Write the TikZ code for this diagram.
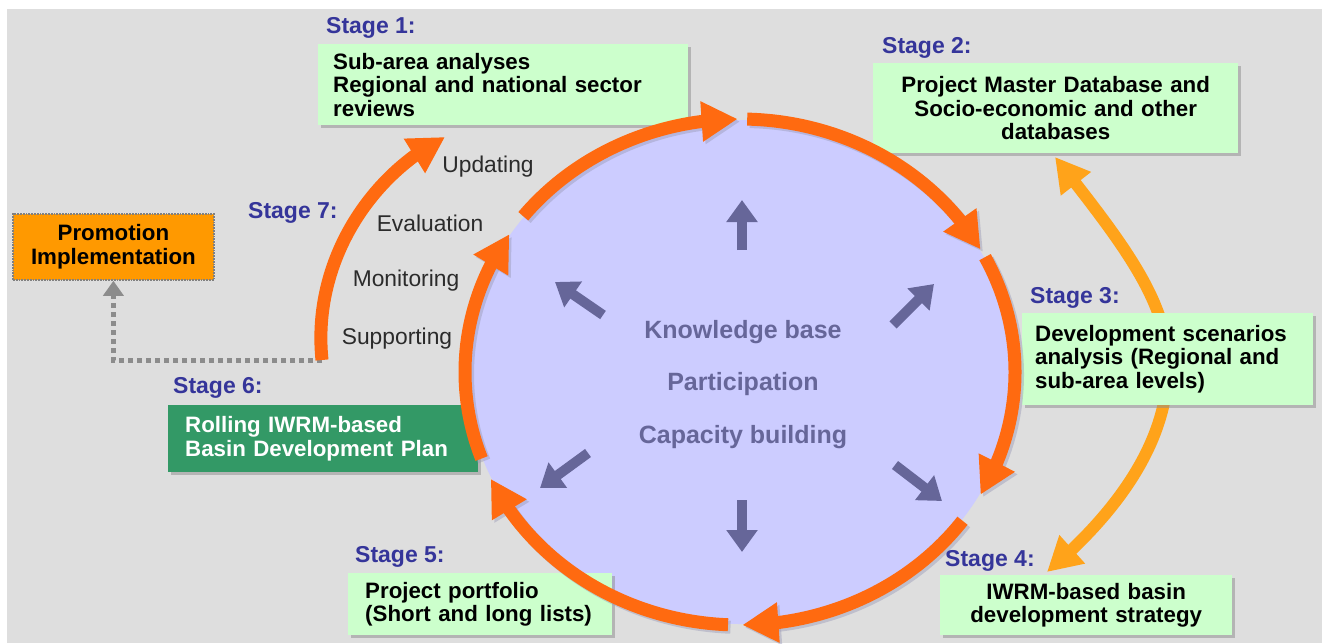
\documentclass[tikz,border=0pt]{standalone}
\usepackage{fontspec}
\setmainfont{Liberation Sans}
\usetikzlibrary{arrows.meta,bending,shapes.geometric,shadows}
\definecolor{bgc}{HTML}{DEDEDE}
\definecolor{lav}{HTML}{CCCCFF}
\definecolor{org}{HTML}{FF6A10}
\definecolor{lorg}{HTML}{FFA31A}
\definecolor{boxg}{HTML}{CCFFCC}
\definecolor{dkg}{HTML}{339966}
\definecolor{stg}{HTML}{35359A}
\definecolor{hubc}{HTML}{666699}
\definecolor{promoc}{HTML}{FF9900}
\definecolor{txtc}{HTML}{2B2B2B}
\definecolor{shd}{HTML}{9A9AB8}
\newcommand\cycarc[2]{%
  \draw[shd, line width=13pt, -{Triangle[length=36pt,width=38pt]}, opacity=.45]
    ({740+275*cos(#1)},{372-253*sin(#1)}) ++(2.5,2.5) arc[start angle=#1, end angle=#2, x radius=275pt, y radius=253pt];
  \draw[org, line width=13pt, -{Triangle[length=36pt,width=38pt]}]
    ({740+275*cos(#1)},{372-253*sin(#1)}) arc[start angle=#1, end angle=#2, x radius=275pt, y radius=253pt];
}
\begin{document}
\begin{tikzpicture}[x=1pt,y=-1pt,
  boxfont/.style={font=\bfseries\fontsize{22.3}{23.5}\selectfont},
  gbox/.style={boxfont, fill=boxg, text=black, anchor=north west, inner ysep=0pt,
     drop shadow={shadow xshift=3pt, shadow yshift=-3pt, fill=black!45, opacity=.5}},
  stage/.style={font=\bfseries\fontsize{23}{24}\selectfont, text=stg, anchor=west, inner sep=0pt},
  side/.style={font=\fontsize{22.8}{24}\selectfont, text=txtc, inner sep=0pt},
  hubtxt/.style={font=\bfseries\fontsize{25}{26}\selectfont, text=hubc, inner sep=0pt},
  hubarr/.style={draw=hubc, line width=10pt, -{Triangle[length=22pt,width=30pt]}},
  lorgarr/.style={draw=lorg, line width=12pt, {Triangle[length=34pt,width=36pt]}-{Triangle[length=34pt,width=36pt]}},
  orgarr/.style={draw=org, line width=13pt, -{Triangle[length=36pt,width=38pt]}},
  dotconn/.style={draw=black!45, line width=5pt, dash pattern=on 5pt off 4pt, -{Triangle[length=15pt,width=20pt]}},
]
\useasboundingbox (0,0) rectangle (1322,643);
\fill[white] (0,0) rectangle (1322,643);
\fill[bgc] (7,9) rectangle (1322,643);

% Stage 6 box (under the circle)
\node[gbox, fill=dkg, text=white, minimum width=310pt, minimum height=67pt,
      inner xsep=17pt, text width=276pt, align=left] (b6) at (168,405)
      {Rolling IWRM-based\\Basin Development Plan};

% central circle
\node[ellipse, fill=lav, minimum width=548pt, minimum height=504pt, inner sep=0pt] (hub) at (740,372) {};

% central arrows
\draw[hubarr] (742,250) -- (742,200);
\draw[hubarr] (742,500) -- (742,552);
\draw[hubarr] (893,325) -- (934,284);
\draw[hubarr] (603,315) -- (555,282);
\draw[hubarr] (588,453) -- (540,488);
\draw[hubarr] (895,465) -- (942,501);

\node[hubtxt] (kb) at (743,332) {Knowledge base};
\node[hubtxt] (pa) at (743,384) {Participation};
\node[hubtxt] (cb) at (743,437) {Capacity building};

% light orange double arrow (stage 3 -> 2 and 3 -> 4)
\coordinate (lo1) at (1055,157);
\coordinate (lo2) at (1047,572);
\draw[lorgarr] (lo1) .. controls (1120,240) and (1168,300) .. (1168,365)
               .. controls (1168,440) and (1120,510) .. (lo2);

% boxes
\node[gbox, minimum width=370pt, minimum height=81pt, inner xsep=15pt,
      text width=340pt, align=left] (b1) at (318,44)
      {Sub-area analyses\\Regional and national sector\\reviews};
\node[gbox, minimum width=365pt, minimum height=90pt, inner xsep=10pt,
      text width=345pt, align=center] (b2) at (873,63)
      {Project Master Database and\\Socio-economic and other\\databases};
\node[gbox, minimum width=291pt, minimum height=92pt, inner xsep=13pt,
      text width=265pt, align=left] (b3) at (1022,313)
      {Development scenarios\\analysis (Regional and\\sub-area levels)};
\node[gbox, minimum width=292pt, minimum height=60pt, inner xsep=10pt,
      text width=272pt, align=center] (b4) at (940,575)
      {IWRM-based basin\\development strategy};
\node[gbox, minimum width=264pt, minimum height=62pt, inner xsep=17pt,
      text width=230pt, align=left] (b5) at (348,573)
      {Project portfolio\\(Short and long lists)};

% cycle arcs
\cycarc{142}{90.5}
\cycarc{88.5}{29}
\cycarc{27}{-29}
\cycarc{-36}{-89.5}
\cycarc{-92.5}{-155}
\cycarc{200}{147}

% promotion box and stage 7 arrow
\node[boxfont, fill=promoc, draw=black!50, line width=1.8pt, densely dotted,
      anchor=north west, minimum width=201pt, minimum height=66pt,
      inner xsep=5pt, inner ysep=0pt, text width=191pt, align=center] (promo) at (12,213)
      {Promotion\\Implementation};
\coordinate (s7) at (322,360);
\coordinate (s7end) at (445,137);
\draw[dotconn] (s7) -| (promo.south);
\draw[orgarr] (s7) .. controls (312,262) and (370,175) .. (s7end);

% side labels
\node[side] (upd) at (488,167) {Updating};
\node[side] (eva) at (430,223) {Evaluation};
\node[side] (mon) at (406,281) {Monitoring};
\node[side] (sup) at (397,339) {Supporting};

% stage labels
\node[stage] (st1) at (326,28) {Stage 1:};
\node[stage] (st2) at (882,48) {Stage 2:};
\node[stage] (st3) at (1030,298) {Stage 3:};
\node[stage] (st4) at (945,561) {Stage 4:};
\node[stage] (st5) at (355,557) {Stage 5:};
\node[stage] (st6) at (173,388) {Stage 6:};
\node[stage] (st7) at (248,213) {Stage 7:};
\end{tikzpicture}
\end{document}
